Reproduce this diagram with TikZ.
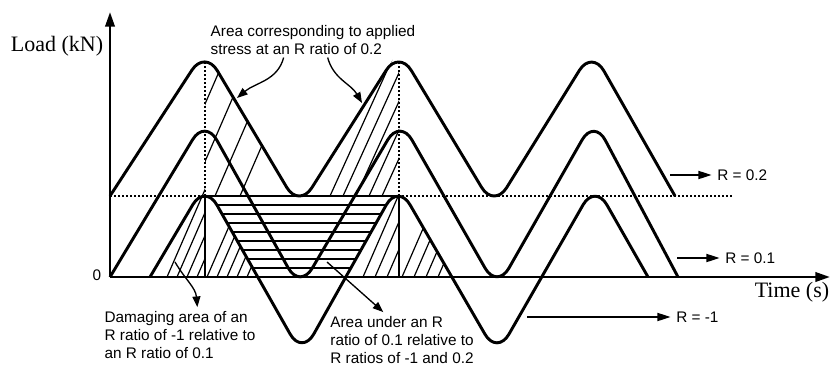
\documentclass[tikz,border=0pt]{standalone}
\usepackage{fontspec}
\setmainfont{Liberation Serif}
\setsansfont{Liberation Sans}
\usetikzlibrary{arrows.meta, positioning}

\begin{document}
\begin{tikzpicture}[
    x=0.75pt, y=0.75pt,
    wave/.style={line width=2.2pt, rounded corners=18pt, line join=round},
    axis/.style={line width=2pt, -{Triangle[length=11pt,width=7pt]}},
    guide/.style={line width=1.2pt, dash pattern=on 1.6pt off 1.4pt},
    hatch/.style={line width=0.9pt},
    rarrow/.style={line width=1.4pt, shorten >=4pt, -{Triangle[length=10pt,width=6pt]}},
    callout/.style={line width=1pt, -{Triangle[length=8pt,width=6pt]}},
    lbl/.style={font=\sffamily\fontsize{11.5}{13.5}\selectfont, align=left, inner sep=0pt},
    axlbl/.style={font=\fontsize{16.5}{18}\selectfont, inner sep=0pt}
]
\useasboundingbox (0,0) rectangle (831,369);

% axes
\coordinate (O) at (110,92);
\coordinate (ytop) at (110,357);
\coordinate (xend) at (830,92);
\draw[axis] (O) -- (ytop);
\draw[axis] (O) -- (xend);
\node[axlbl] (load) at (57,323) {Load (kN)};
\node[axlbl] (time) at (792,77) {Time (s)};
\node[lbl] (zero) at (97,94) {0};

% guide lines
\draw[guide] (110,173) -- (732,173);
\draw[guide] (205,173) -- (205,307);
\draw[guide] (399,173) -- (399,307);
\draw[line width=2pt] (205,173) -- (399,173);
\draw[line width=1.3pt] (205,92) -- (205,173);
\draw[line width=1.3pt] (399,92) -- (399,173);

% hatching, R = -1 against R = 0.1
\begin{scope}
  \clip (150,92) -- (205,185) -- (205,92) -- cycle;
  \foreach \x in {167,177,187,197}
    \draw[hatch] (\x,92) -- ++(45,103.5);
\end{scope}
\begin{scope}
  \clip (205,185) -- (205,92) -- (257.8,92) -- cycle;
  \foreach \x in {207,217,227,237,247}
    \draw[hatch] (\x,92) -- ++(45,103.5);
\end{scope}
\begin{scope}
  \clip (345.8,92) -- (398,185) -- (398,92) -- cycle;
  \foreach \x in {363,375,387}
    \draw[hatch] (\x,92) -- ++(45,103.5);
\end{scope}
\begin{scope}
  \clip (398,185) -- (398,92) -- (451.8,92) -- cycle;
  \foreach \x in {402,414,426,438}
    \draw[hatch] (\x,92) -- ++(45,103.5);
\end{scope}
% horizontal hatching
\begin{scope}
  \clip (205,185) -- (302,14) -- (398,185) -- cycle;
  \foreach \y in {101,110,...,164}
    \draw[hatch] (200,\y) -- (400,\y);
\end{scope}
% hatching, R = 0.2
\begin{scope}
  \clip (205,319) -- (205,173) -- (291.9,173) -- cycle;
  \foreach \x in {165,190,215,240}
    \draw[hatch] (\x,173) -- ++(70,161);
\end{scope}
\begin{scope}
  \clip (306.6,173) -- (399,319) -- (399,173) -- cycle;
  \foreach \x in {330,343,356,369,382}
    \draw[hatch] (\x,173) -- ++(70,154);
\end{scope}

% load waves
\draw[wave] (110,173) -- (205,319) -- (299,161) -- (399,319) -- (494,161) -- (592,319) -- (675,173);
\draw[wave] (110,92) -- (205,250) -- (300,80) -- (400,250) -- (497,80) -- (594,250) -- (678,92);
\draw[wave] (150,92) -- (205,185) -- (302,14) -- (398,185) -- (497,14) -- (595,185) -- (648,92);

% R labels
\node[lbl, anchor=west] (r02) at (717,194) {R = 0.2};
\node[lbl, anchor=west] (r01) at (725,111) {R = 0.1};
\node[lbl, anchor=west] (rm1) at (676,52) {R = -1};
\coordinate (r02s) at (670,194);
\coordinate (r01s) at (677,111);
\coordinate (rm1s) at (527,52);
\draw[rarrow] (r02s) -- (r02.west);
\draw[rarrow] (r01s) -- (r01.west);
\draw[rarrow] (rm1s) -- (rm1.west);

% callouts
\node[lbl] (area) at (313,329) {Area corresponding to applied\\stress at an R ratio of 0.2};
\node[lbl] (dmg) at (180,34) {Damaging area of an\\R ratio of -1 relative to\\an R ratio of 0.1};
\node[lbl] (under) at (402,29) {Area under an R\\ratio of 0.1 relative to\\R ratios of -1 and 0.2};
\coordinate (areapt1) at (237,271);
\coordinate (areapt2) at (362,266);
\coordinate (dmgpt) at (175,107);
\coordinate (underpt) at (327,107);
\draw[callout] ([xshift=-22pt,yshift=-2pt]area.south) to[out=-105,in=40] (areapt1);
\draw[callout] ([xshift=11pt,yshift=-2pt]area.south) to[out=-75,in=120] (areapt2);
\draw[callout] (dmgpt) to[out=-60,in=95] ([xshift=13pt,yshift=3pt]dmg.north);
\draw[callout] (underpt) -- ([xshift=-14pt,yshift=3pt]under.north);
\end{tikzpicture}
\end{document}
